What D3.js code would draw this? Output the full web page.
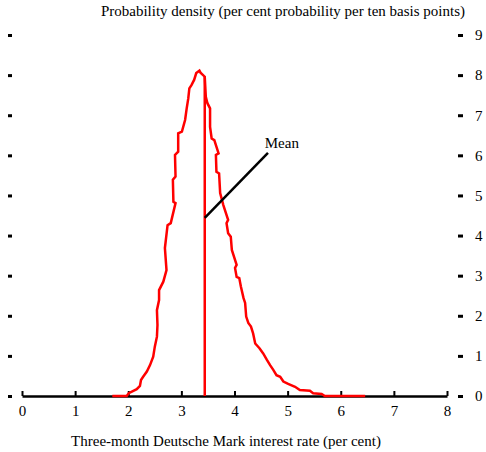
<!DOCTYPE html>
<html>
<head>
<meta charset="utf-8">
<script src="https://cdn.jsdelivr.net/npm/d3@7"></script>
<style>
  html, body { margin: 0; padding: 0; background: #fff; }
  svg { display: block; font-family: "Liberation Serif", "Times New Roman", serif; }
</style>
</head>
<body>
<div id="chart"></div>
<script>
// Three-month Deutsche Mark interest rate (per cent), outline points of the density
const rate = [1.70, 1.97, 2.01, 2.16, 2.22, 2.24, 2.28, 2.35, 2.41, 2.47, 2.50, 2.54, 2.55, 2.54, 2.58, 2.58,
  2.66, 2.72, 2.69, 2.74, 2.80, 2.89, 2.85, 2.84, 2.89, 2.88, 2.94, 2.94, 3.01, 3.07, 3.10, 3.13, 3.15,
  3.19, 3.24, 3.28, 3.34, 3.36, 3.44, 3.46, 3.49, 3.54, 3.54, 3.57, 3.62, 3.70, 3.65, 3.66, 3.71, 3.73,
  3.79, 3.88, 3.85, 3.88, 3.93, 3.95, 4.04, 4.01, 4.04, 4.09, 4.12, 4.17, 4.20, 4.22, 4.26, 4.31, 4.35,
  4.39, 4.47, 4.54, 4.61, 4.67, 4.73, 4.79, 4.86, 4.92, 5.01, 5.14, 5.23, 5.42, 5.48, 5.64, 5.70, 6.46];
// Probability density (per cent probability per ten basis points)
const density = [0.00, 0.00, 0.07, 0.17, 0.25, 0.40, 0.48, 0.61, 0.77, 0.98, 1.23, 1.48, 1.77, 2.14, 2.39, 2.64,
  2.85, 3.14, 3.69, 4.26, 4.31, 4.81, 4.84, 5.39, 5.47, 6.01, 6.09, 6.55, 6.59, 6.88, 7.17, 7.42, 7.67,
  7.75, 7.88, 8.05, 8.11, 8.06, 7.96, 7.46, 7.30, 7.17, 6.71, 6.42, 6.38, 6.05, 6.01, 5.59, 5.55, 5.06,
  4.76, 4.39, 4.31, 4.06, 3.97, 3.64, 3.27, 3.19, 2.97, 2.94, 2.73, 2.44, 2.32, 1.98, 1.82, 1.73, 1.56,
  1.31, 1.19, 1.06, 0.90, 0.77, 0.65, 0.52, 0.48, 0.36, 0.30, 0.23, 0.15, 0.13, 0.07, 0.05, 0.00, 0.00];

// Mean of the distribution and its annotation
const meanRate = 3.44;
const meanDensity = 7.96;
const meanPointer = [[3.44, 4.44], [4.63, 6.06]];
const meanLabel = { text: "Mean", rate: 4.57, density: 6.18 };

const xTicks = [0, 1, 2, 3, 4, 5, 6, 7, 8];
const yTicks = [0, 1, 2, 3, 4, 5, 6, 7, 8, 9];

const xTitle = "Three-month Deutsche Mark interest rate (per cent)";
const yTitle = "Probability density (per cent probability per ten basis points)";

const W = 486, H = 452;
const FONT = 15;
const svg = d3.select("#chart").append("svg").attr("width", W).attr("height", H);

const x = d3.scaleLinear().domain([0, 8]).range([22, 447]);
const y = d3.scaleLinear().domain([0, 9]).range([396, 35]);

// left-hand tick dashes
const left = svg.append("g").attr("transform", "translate(12,0)")
  .call(d3.axisLeft(y).tickValues(yTicks).tickSize(4).tickFormat(""));
left.select(".domain").remove();
left.selectAll(".tick line").attr("stroke", "#000").attr("stroke-width", 3);

// right-hand tick dashes with labels
const right = svg.append("g").attr("transform", "translate(458,0)")
  .call(d3.axisRight(y).tickValues(yTicks).tickSize(5).tickPadding(12).tickFormat(d3.format("d")));
right.select(".domain").remove();
right.selectAll(".tick line").attr("stroke", "#000").attr("stroke-width", 3);
right.selectAll(".tick text").attr("font-size", FONT).attr("font-family", "Liberation Serif").attr("fill", "#000");

// horizontal axis with upward ticks
const bottom = svg.append("g").attr("transform", `translate(0,${y(0)})`)
  .call(d3.axisBottom(x).tickValues(xTicks).tickSizeInner(-5).tickSizeOuter(0).tickPadding(9).tickFormat(d3.format("d")));
bottom.select(".domain").attr("stroke", "#000").attr("stroke-width", 2.5);
bottom.selectAll(".tick line").attr("stroke", "#000").attr("stroke-width", 2);
bottom.selectAll(".tick text").attr("font-size", FONT).attr("font-family", "Liberation Serif").attr("fill", "#000");

// axis titles
svg.append("text").attr("x", 465).attr("y", 16).attr("text-anchor", "end")
  .attr("font-size", FONT).text(yTitle);
svg.append("text").attr("x", 226).attr("y", 446).attr("text-anchor", "middle")
  .attr("font-size", FONT).text(xTitle);

// density outline
const pts = rate.map((r, i) => [r, density[i]]);
svg.append("path").datum(pts)
  .attr("fill", "none").attr("stroke", "#ff0000").attr("stroke-width", 2.5)
  .attr("stroke-linejoin", "miter")
  .attr("d", d3.line().x(d => x(d[0])).y(d => y(d[1])));

// mean line
svg.append("line")
  .attr("x1", x(meanRate)).attr("x2", x(meanRate))
  .attr("y1", y(0)).attr("y2", y(meanDensity))
  .attr("stroke", "#ff0000").attr("stroke-width", 2.5);

// annotation
svg.append("line")
  .attr("x1", x(meanPointer[0][0])).attr("y1", y(meanPointer[0][1]))
  .attr("x2", x(meanPointer[1][0])).attr("y2", y(meanPointer[1][1]))
  .attr("stroke", "#000").attr("stroke-width", 2.5);
svg.append("text").attr("x", x(meanLabel.rate)).attr("y", y(meanLabel.density))
  .attr("font-size", FONT).text(meanLabel.text);
</script>
</body>
</html>
